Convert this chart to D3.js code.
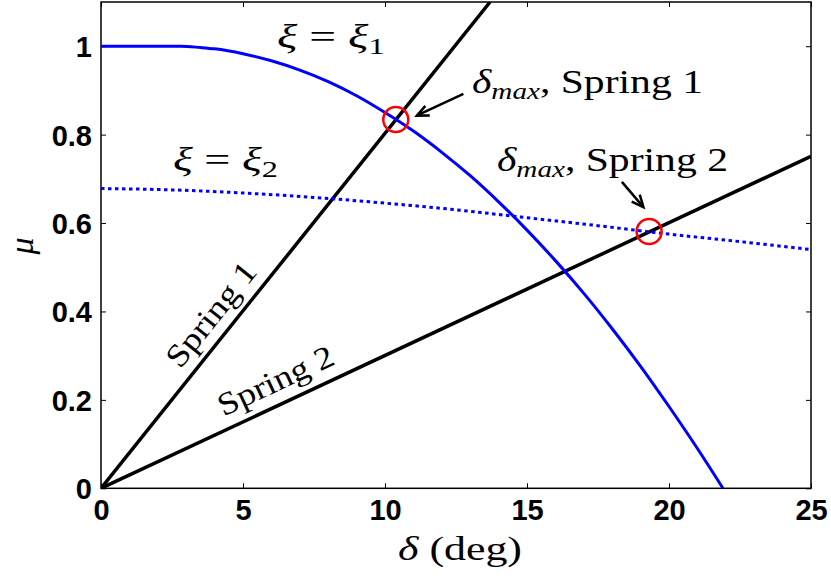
<!DOCTYPE html>
<html><head><meta charset="utf-8">
<script src="https://cdn.jsdelivr.net/npm/d3@7"></script>
<style>body{margin:0;background:#fff}svg{display:block}</style>
</head><body>
<script>
// Tick values
const xTicks = [0, 5, 10, 15, 20, 25];
const yTicks = [0, 0.2, 0.4, 0.6, 0.8, 1];

// Friction-demand curves mu(delta) for the two damping ratios
const xi1Curve = [[0,1],[1,1],[2,1],[2.8,1],[3.5,0.997],[4,0.994],[5,0.983],[6,0.967],[7,0.946],[8,0.920],[9,0.888],[10,0.850],[11,0.808],[12,0.760],[13,0.707],[14,0.648],[15,0.584],[16,0.515],[17,0.441],[18,0.361],[19,0.276],[20,0.185],[21,0.090],[21.9,0]];
const xi2Curve = [[0,0.678],[2.5,0.675],[5,0.668],[7.5,0.658],[10,0.645],[12.5,0.630],[15,0.612],[17.5,0.594],[20,0.575],[22.5,0.558],[25,0.540]];

// Spring lines through the origin
const spring1 = [[0,0],[13.7,1.1]];
const spring2 = [[0,0],[25,0.751]];

// Operating points (delta_max)
const maxPoints = [[10.38,0.834],[19.3,0.581]];

// Arrows: [tail, tip]
const arrows = [[[12.76,0.892],[11.12,0.843]], [[18.34,0.693],[19.10,0.636]]];

const W = 831, H = 577;
const x = d3.scaleLinear().domain([0,25]).range([101,811]);
const y = d3.scaleLinear().domain([0,1.1]).range([488.3,2]);

const svg = d3.select("body").append("svg").attr("width",W).attr("height",H);

svg.append("defs").append("clipPath").attr("id","plotclip")
  .append("rect").attr("x",x(0)).attr("y",y(1.1)).attr("width",x(25)-x(0)).attr("height",y(0)-y(1.1));

const serif = "'Liberation Serif', 'Times New Roman', serif";
const sans = "'Liberation Sans', Arial, sans-serif";

// Axes with inward ticks on all four sides
const tickFmt = d => d3.format("~g")(d);
function styleAxis(g){
  g.select(".domain").remove();
  g.selectAll(".tick line").attr("stroke","#000").attr("stroke-width",1);
  g.selectAll(".tick text").attr("font-family",sans).attr("font-weight","bold").attr("font-size",29).attr("fill","#000");
}
svg.append("g").attr("transform",`translate(0,${y(0)})`)
  .call(d3.axisBottom(x).tickValues(xTicks).tickFormat(tickFmt).tickSizeInner(-5).tickSizeOuter(0).tickPadding(11))
  .call(styleAxis);
svg.append("g").attr("transform",`translate(0,${y(1.1)})`)
  .call(d3.axisTop(x).tickValues(xTicks).tickSizeInner(-5).tickSizeOuter(0).tickFormat(""))
  .call(styleAxis);
svg.append("g").attr("transform",`translate(${x(0)},0)`)
  .call(d3.axisLeft(y).tickValues(yTicks).tickFormat(tickFmt).tickSizeInner(-5).tickSizeOuter(0).tickPadding(9))
  .call(styleAxis)
  .selectAll(".tick text").attr("dy","0.36em");
svg.append("g").attr("transform",`translate(${x(25)},0)`)
  .call(d3.axisRight(y).tickValues(yTicks).tickSizeInner(-5).tickSizeOuter(0).tickFormat(""))
  .call(styleAxis);

svg.append("rect").attr("x",x(0)).attr("y",y(1.1)).attr("width",x(25)-x(0)).attr("height",y(0)-y(1.1))
  .attr("fill","none").attr("stroke","#000").attr("stroke-width",1.5);

const plot = svg.append("g").attr("clip-path","url(#plotclip)");
const line = d3.line().x(d=>x(d[0])).y(d=>y(d[1]));
const smooth = d3.line().x(d=>x(d[0])).y(d=>y(d[1])).curve(d3.curveMonotoneX);

plot.append("path").datum(spring1).attr("d",line).attr("fill","none").attr("stroke","#000").attr("stroke-width",3.5);
plot.append("path").datum(spring2).attr("d",line).attr("fill","none").attr("stroke","#000").attr("stroke-width",3.5);
plot.append("path").datum(xi1Curve).attr("d",smooth).attr("fill","none").attr("stroke","#0000ff").attr("stroke-width",3);
plot.append("path").datum(xi2Curve).attr("d",smooth).attr("fill","none").attr("stroke","#0000ff").attr("stroke-width",3).attr("stroke-dasharray","3.5,3.5");

plot.selectAll("circle.mx").data(maxPoints).join("circle").attr("class","mx")
  .attr("cx",d=>x(d[0])).attr("cy",d=>y(d[1])).attr("r",12.5)
  .attr("fill","none").attr("stroke","#ff0000").attr("stroke-width",2.5);

// Arrows
arrows.forEach(([t,h])=>{
  const x1=x(t[0]), y1=y(t[1]), x2=x(h[0]), y2=y(h[1]);
  const a = Math.atan2(y2-y1, x2-x1), L=13, s=0.42;
  svg.append("line").attr("x1",x1).attr("y1",y1).attr("x2",x2-Math.cos(a)*1).attr("y2",y2-Math.sin(a)*1)
    .attr("stroke","#000").attr("stroke-width",2.5);
  const p1=[x2-L*Math.cos(a-s), y2-L*Math.sin(a-s)], p2=[x2-L*Math.cos(a+s), y2-L*Math.sin(a+s)];
  svg.append("path").attr("d",`M${p1}L${x2},${y2}L${p2}`).attr("fill","none").attr("stroke","#000").attr("stroke-width",2.5).attr("stroke-linejoin","miter");
});

// Math-style text built from segments
function mathText(parent, segs, opts){
  const t = parent.append("text").attr("font-family",serif).attr("font-size",opts.size||34).attr("fill","#000");
  if(opts.anchor) t.attr("text-anchor",opts.anchor);
  let shift = 0;
  segs.forEach(s=>{
    const sp = t.append("tspan").text(s.t);
    if(s.it) sp.attr("font-style","italic");
    const target = s.sub ? 6 : 0;
    if(target!==shift){ sp.attr("dy",target-shift); shift=target; }
    if(s.sub) sp.attr("font-size",(opts.size||34)*0.7);
    if(s.dx) sp.attr("dx",s.dx);
  });
  if(opts.len) t.attr("textLength",opts.len).attr("lengthAdjust","spacingAndGlyphs");
  t.attr("x",opts.x).attr("y",opts.y);
  if(opts.rotate!==undefined) t.attr("transform",`rotate(${opts.rotate},${opts.x},${opts.y})`);
  return t;
}

mathText(svg,[{t:"ξ",it:true},{t:" = "},{t:"ξ",it:true},{t:"1",sub:true}],{x:277,y:48,len:108});
mathText(svg,[{t:"ξ",it:true},{t:" = "},{t:"ξ",it:true},{t:"2",sub:true}],{x:173,y:171,len:105});
mathText(svg,[{t:"δ",it:true},{t:"max",it:true,sub:true},{t:", Spring 1"}],{x:472,y:93,len:231});
mathText(svg,[{t:"δ",it:true},{t:"max",it:true,sub:true},{t:", Spring 2"}],{x:497,y:171,len:231});

// Labels along the spring lines
function alongLabel(seg, at, text, off){
  const [p0,p1]=seg;
  const ang = Math.atan2(y(p1[1])-y(p0[1]), x(p1[0])-x(p0[0]));
  const yv = p0[1] + (p1[1]-p0[1])*(at-p0[0])/(p1[0]-p0[0]);
  const px = x(at) + off*Math.sin(ang), py = y(yv) - off*Math.cos(ang);
  svg.append("text").attr("font-family",serif).attr("font-size",32).attr("text-anchor","middle")
    .attr("x",px).attr("y",py).attr("transform",`rotate(${ang*180/Math.PI},${px},${py})`)
    .attr("textLength",125).attr("lengthAdjust","spacingAndGlyphs").text(text);
}
alongLabel(spring1, 4.5, "Spring 1", 12);
alongLabel(spring2, 6.5, "Spring 2", 13);

// Axis titles
mathText(svg,[{t:"δ",it:true},{t:" (deg)"}],{x:398,y:560,len:124});
mathText(svg,[{t:"μ",it:true}],{x:33,y:246,anchor:"middle",rotate:-90});
</script>
</body></html>
